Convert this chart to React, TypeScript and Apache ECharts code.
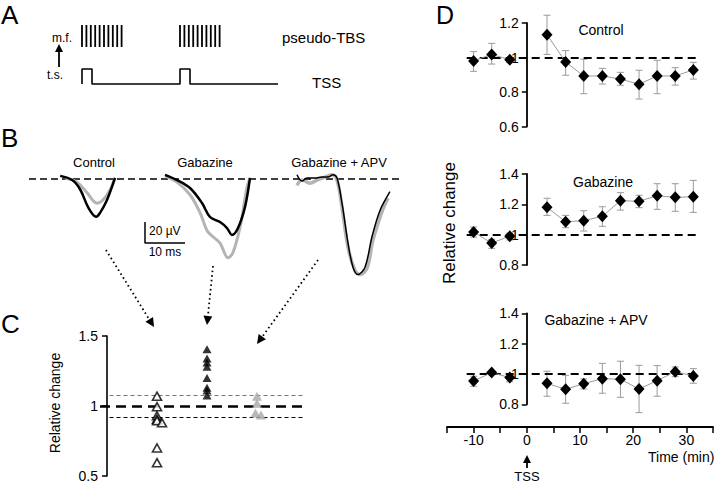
import React, { useEffect, useRef } from "react";
import * as echarts from "echarts";

const FONT = "'Liberation Sans', Arial, Helvetica, sans-serif";

// ---------- Panel A (schematic stimulation protocol) ----------
const tbsBurst1 = [12, 16.4, 20.8, 25.2, 29.6, 34, 38.4, 42.8, 47.2, 51.6];
const tbsBurst2 = [110, 114.4, 118.8, 123.2, 127.6, 132, 136.4, 140.8, 145.2, 149.6];
const tbsLow = 43;
const tbsHigh = 65;
const tssWave: number[][] = [
  [12, 6], [12, 21], [22, 21], [22, 6], [110, 6], [110, 21], [120, 21], [120, 6], [208, 6],
];

// ---------- Panel B (traces: [ms, µV]) ----------
const bControlBlack = [[7.8, 3], [10.8, -1], [12.8, -10], [14.8, -27], [16.8, -36], [17.8, -32], [19.5, -20], [21.5, 1]];
const bControlGray = [[9, 1], [12, -3], [14.5, -13], [17, -23], [18.5, -20], [20.25, -10.5], [21.5, 1]];
const bGabBlack = [[34, 4], [37, -1], [40.25, -8.6], [43.25, -22.9], [45.25, -36.2], [47.75, -41], [49.5, -46.7], [50.75, -53.3], [52.25, -46.7], [54, -26.7], [55.25, 1]];
const bGabGray = [[34, 3], [37, -3], [40.25, -15], [42.75, -32], [44.5, -49], [46, -55], [47.75, -61], [49.75, -75], [51, -70], [52.75, -46], [54.5, -8], [55.25, 1]];
const bApvBlack = [[67, 4], [68.25, -2], [69.5, 1], [71.5, 1], [73.25, 2], [74.75, 2], [76, 4], [77, 1], [78.25, -23], [79.75, -61], [81, -84], [82.25, -91], [84, -84], [85.75, -55], [87.75, -30], [90.25, -12]];
const bApvGray = [[67, -6], [68.25, -1], [70.25, -4], [72, -1], [73.5, 1], [75.75, 4], [77, -1], [78.25, -27], [79.75, -65], [81.5, -87], [82.75, -91], [84.5, -85], [86, -58], [88.25, -31], [89.75, -18]];
const bScaleBar = [[29, -41], [29, -61], [39, -61]];

// ---------- Panel C (relative change per cell) ----------
const cControl = [[1, 1.07], [1, 0.995], [1, 0.93], [1, 0.905], [1, 0.895], [1.1, 0.88], [1, 0.7], [1, 0.595]];
const cGabazine = [[2, 1.405], [2, 1.34], [2, 1.31], [2, 1.28], [2, 1.2], [2, 1.13], [2, 1.11], [2, 1.075]];
const cApv = [[3, 1.07], [3, 1.02], [2.97, 0.95], [3.08, 0.935]];
const cUpper = 1.079;
const cLower = 0.92;

// ---------- Panel D (time course) ----------
const timeMin = [-10, -6.6, -3.2, 3.8, 7.3, 10.7, 14.2, 17.6, 21.1, 24.5, 27.9, 31.3];
const dControlMean = [0.98, 1.018, 0.987, 1.132, 0.974, 0.893, 0.893, 0.875, 0.845, 0.893, 0.893, 0.928];
const dControlLo = [0.92, 0.962, 0.97, 1.018, 0.897, 0.79, 0.846, 0.839, 0.759, 0.79, 0.84, 0.875];
const dControlHi = [1.034, 1.082, 1.0, 1.245, 1.04, 0.99, 0.937, 0.914, 0.926, 0.984, 0.941, 0.972];
const dGabMean = [1.017, 0.945, 0.99, 1.18, 1.085, 1.092, 1.121, 1.224, 1.22, 1.257, 1.246, 1.25];
const dGabLo = [0.984, 0.91, 0.965, 1.127, 1.046, 1.024, 1.055, 1.162, 1.178, 1.167, 1.154, 1.147];
const dGabHi = [1.05, 0.969, 1.01, 1.24, 1.127, 1.158, 1.184, 1.277, 1.26, 1.336, 1.336, 1.358];
const dApvMean = [0.954, 1.009, 0.976, 0.938, 0.899, 0.936, 0.969, 0.965, 0.901, 0.956, 1.015, 0.987];
const dApvLo = [0.919, 0.995, 0.949, 0.853, 0.807, 0.901, 0.873, 0.846, 0.745, 0.853, 0.982, 0.939];
const dApvHi = [0.985, 1.02, 0.998, 1.018, 0.991, 0.967, 1.07, 1.084, 1.057, 1.055, 1.046, 1.035];
const timeTicks = [-10, 0, 10, 20, 30];

const D_LEFT = 447;
const D_WIDTH = 266;
const T_MIN = -15;
const T_MAX = 35;
const D_Y_OFFSET = -((0 - T_MIN) / (T_MAX - T_MIN)) * D_WIDTH;

function vRender(color: string, cap: number, width: number) {
  return (params: any, api: any) => {
    const x = api.value(0);
    const a = api.coord([x, api.value(1)]);
    const b = api.coord([x, api.value(2)]);
    const style = { stroke: color, lineWidth: width };
    const children: any[] = [
      { type: "line", shape: { x1: a[0], y1: a[1], x2: b[0], y2: b[1] }, style },
    ];
    if (cap > 0) {
      children.push({ type: "line", shape: { x1: a[0] - cap, y1: a[1], x2: a[0] + cap, y2: a[1] }, style });
      children.push({ type: "line", shape: { x1: b[0] - cap, y1: b[1], x2: b[0] + cap, y2: b[1] }, style });
    }
    return { type: "group", children };
  };
}

function text(x: number, y: number, t: string, size: number, align = "left", extra: any = {}, rotation = 0) {
  return {
    type: "text",
    x,
    y,
    rotation,
    style: {
      text: t,
      fontSize: size,
      fontFamily: FONT,
      fill: "#000",
      align,
      verticalAlign: "middle",
      textAlign: align,
      textVerticalAlign: "middle",
      ...extra,
    },
    z: 100,
  };
}

function dottedArrow(x1: number, y1: number, tip: number[]) {
  const dx = tip[0] - x1;
  const dy = tip[1] - y1;
  const len = Math.sqrt(dx * dx + dy * dy);
  const ux = dx / len;
  const uy = dy / len;
  const bx = tip[0] - ux * 9;
  const by = tip[1] - uy * 9;
  const px = -uy * 4.5;
  const py = ux * 4.5;
  return [
    {
      type: "line",
      shape: { x1, y1, x2: bx, y2: by },
      style: { stroke: "#000", lineWidth: 1.8, lineDash: [1.6, 3] },
      z: 100,
    },
    {
      type: "polygon",
      shape: { points: [tip, [bx + px, by + py], [bx - px, by - py]] },
      style: { fill: "#000" },
      z: 100,
    },
  ];
}

function upArrow(x: number, yTop: number, yBottom: number) {
  return [
    { type: "line", shape: { x1: x, y1: yBottom, x2: x, y2: yTop + 7 }, style: { stroke: "#000", lineWidth: 1.8 }, z: 100 },
    { type: "polygon", shape: { points: [[x, yTop], [x - 4, yTop + 8], [x + 4, yTop + 8]] }, style: { fill: "#000" }, z: 100 },
  ];
}

const hiddenAxis = (min: number, max: number) => ({
  type: "value",
  min,
  max,
  show: false,
  splitLine: { show: false },
});

function dYAxis(min: number, max: number) {
  return {
    type: "value",
    min,
    max,
    interval: 0.2,
    position: "left",
    offset: D_Y_OFFSET,
    axisLine: { show: true, onZero: false, lineStyle: { color: "#000", width: 1.8 } },
    axisTick: { show: true, length: 5, lineStyle: { color: "#000", width: 1.5 } },
    axisLabel: { fontSize: 14, color: "#000", margin: 8, fontFamily: FONT },
    splitLine: { show: false },
  };
}

function dSeries(idx: number, mean: number[], lo: number[], hi: number[]) {
  const pts = timeMin.map((t, i) => [t, mean[i]]);
  const lineBase = {
    type: "line",
    xAxisIndex: idx,
    yAxisIndex: idx,
    symbol: "diamond",
    symbolSize: [11, 12],
    itemStyle: { color: "#000" },
    lineStyle: { color: "#9a9a9a", width: 1 },
    z: 5,
  };
  return [
    {
      type: "custom",
      xAxisIndex: idx,
      yAxisIndex: idx,
      renderItem: vRender("#9a9a9a", 3.5, 1),
      encode: { x: 0, y: [1, 2] },
      data: timeMin.map((t, i) => [t, lo[i], hi[i]]),
      z: 3,
    },
    {
      ...lineBase,
      data: pts.slice(0, 3),
      markLine: {
        silent: true,
        symbol: "none",
        label: { show: false },
        lineStyle: { color: "#000", width: 2, type: [8, 5] },
        data: [[{ coord: [-11.3, 1] }, { coord: [32, 1] }]],
        z: 4,
      },
    },
    { ...lineBase, data: pts.slice(3) },
  ];
}

function trace(data: number[][], color: string, width: number) {
  return {
    type: "line",
    xAxisIndex: 1,
    yAxisIndex: 1,
    data,
    smooth: 0.35,
    symbol: "none",
    lineStyle: { color, width },
    z: color === "#000" ? 6 : 5,
  };
}

export default function App() {
  const ref = useRef<HTMLDivElement>(null);

  useEffect(() => {
    document.body.style.margin = "0";
    if (!ref.current) return;
    const chart = echarts.init(ref.current, undefined, { renderer: "svg" });

    const option: any = {
      animation: false,
      backgroundColor: "#fff",
      textStyle: { fontFamily: FONT },
      grid: [
        { left: 70, top: 20, width: 220, height: 70 },
        { left: 29, top: 160.1, width: 371, height: 123.9 },
        { left: 97, top: 336, width: 210, height: 140 },
        { left: D_LEFT, top: 23, width: D_WIDTH, height: 103.5 },
        { left: D_LEFT, top: 174, width: D_WIDTH, height: 91 },
        { left: D_LEFT, top: 313.3, width: D_WIDTH, height: 91 },
      ],
      xAxis: [
        hiddenAxis(0, 220),
        hiddenAxis(0, 92.75),
        hiddenAxis(-0.2, 4),
        hiddenAxis(T_MIN, T_MAX),
        hiddenAxis(T_MIN, T_MAX),
        {
          type: "value",
          min: T_MIN,
          max: T_MAX,
          interval: 5,
          position: "bottom",
          offset: 22.7,
          axisLine: { show: true, onZero: false, lineStyle: { color: "#000", width: 1.8 } },
          axisTick: { show: true, length: 6, lineStyle: { color: "#000", width: 1.5 } },
          axisLabel: {
            fontSize: 14,
            color: "#000",
            margin: 6,
            fontFamily: FONT,
            formatter: (v: number) => (timeTicks.indexOf(v) >= 0 ? String(v) : ""),
          },
          splitLine: { show: false },
        },
      ].map((a: any, i: number) => ({ gridIndex: i, ...a })),
      yAxis: [
        hiddenAxis(0, 70),
        hiddenAxis(-100, 18),
        {
          type: "value",
          min: 0.5,
          max: 1.5,
          interval: 0.5,
          position: "left",
          offset: -10,
          axisLine: { show: true, onZero: false, lineStyle: { color: "#000", width: 1.6 } },
          axisTick: { show: true, length: 5, lineStyle: { color: "#000", width: 1.5 } },
          axisLabel: { fontSize: 14, color: "#000", margin: 9, fontFamily: FONT },
          splitLine: { show: false },
        },
        dYAxis(0.6, 1.2),
        dYAxis(0.8, 1.4),
        dYAxis(0.8, 1.4),
      ].map((a: any, i: number) => ({ gridIndex: i, ...a })),
      series: [
        // Panel A
        {
          type: "custom",
          xAxisIndex: 0,
          yAxisIndex: 0,
          renderItem: vRender("#000", 0, 1.8),
          encode: { x: 0, y: [1, 2] },
          data: tbsBurst1.concat(tbsBurst2).map((t) => [t, tbsLow, tbsHigh]),
        },
        {
          type: "line",
          xAxisIndex: 0,
          yAxisIndex: 0,
          data: tssWave,
          symbol: "none",
          lineStyle: { color: "#000", width: 1.6 },
        },
        // Panel B
        trace(bControlGray, "#b4b4b4", 3),
        trace(bControlBlack, "#000", 2.5),
        trace(bGabGray, "#b4b4b4", 3),
        trace(bGabBlack, "#000", 2.5),
        trace(bApvGray, "#b4b4b4", 3.5),
        trace(bApvBlack, "#000", 1.5),
        {
          type: "line",
          xAxisIndex: 1,
          yAxisIndex: 1,
          data: bScaleBar,
          symbol: "none",
          lineStyle: { color: "#000", width: 1.5 },
          markLine: {
            silent: true,
            symbol: "none",
            label: { show: false },
            lineStyle: { color: "#000", width: 1.6, type: [7, 4] },
            data: [[{ coord: [0, 0] }, { coord: [92.75, 0] }]],
          },
        },
        // Panel C
        {
          type: "scatter",
          xAxisIndex: 2,
          yAxisIndex: 2,
          data: cControl,
          symbol: "triangle",
          symbolSize: [9, 8],
          itemStyle: { color: "#fff", borderColor: "#000", borderWidth: 1.6 },
          z: 5,
          markLine: {
            silent: true,
            symbol: "none",
            label: { show: false },
            data: [
              [{ coord: [-0.14, 1], lineStyle: { color: "#000", width: 2.5, type: [10, 6] } }, { coord: [3.92, 1] }],
              [{ coord: [0.05, cUpper], lineStyle: { color: "#777", width: 1.2, type: [4, 3] } }, { coord: [3.92, cUpper] }],
              [{ coord: [0.05, cLower], lineStyle: { color: "#000", width: 1, type: [4, 3] } }, { coord: [3.92, cLower] }],
            ],
            z: 2,
          },
        },
        {
          type: "scatter",
          xAxisIndex: 2,
          yAxisIndex: 2,
          data: cGabazine,
          symbol: "triangle",
          symbolSize: [9, 8],
          itemStyle: { color: "#000" },
          z: 5,
        },
        {
          type: "scatter",
          xAxisIndex: 2,
          yAxisIndex: 2,
          data: cApv,
          symbol: "triangle",
          symbolSize: [10, 9],
          itemStyle: { color: "#a8a8a8" },
          z: 5,
        },
        // Panel D
        ...dSeries(3, dControlMean, dControlLo, dControlHi),
        ...dSeries(4, dGabMean, dGabLo, dGabHi),
        ...dSeries(5, dApvMean, dApvLo, dApvHi),
      ],
      graphic: [
        // panel letters
        text(1, 15, "A", 26),
        text(1, 138, "B", 26),
        text(1, 324, "C", 26),
        text(436, 15, "D", 25),
        // panel A
        text(52, 38, "m.f.", 12),
        text(47, 75, "t.s.", 12),
        ...upArrow(59, 44, 67),
        text(282, 37, "pseudo-TBS", 15),
        text(312, 82, "TSS", 15),
        // panel B
        text(94, 162, "Control", 13, "center"),
        text(205, 162, "Gabazine", 13, "center"),
        text(339, 162, "Gabazine + APV", 13, "center"),
        text(149, 231, "20 \u00b5V", 12),
        text(165, 252, "10 ms", 12, "center"),
        // arrows B -> C
        ...dottedArrow(106, 250, [154, 327]),
        ...dottedArrow(213, 266, [207, 325]),
        ...dottedArrow(318, 260, [257, 344]),
        // panel C axis title
        text(55, 403, "Relative change", 14, "center", {}, Math.PI / 2),
        // panel D
        text(449, 223, "Relative change", 17, "center", {}, Math.PI / 2),
        text(601, 30, "Control", 14, "center"),
        text(603, 182, "Gabazine", 14, "center"),
        text(596, 320, "Gabazine + APV", 14, "center"),
        text(648, 457, "Time (min)", 14),
        ...upArrow(527, 455, 468),
        text(527, 476, "TSS", 13, "center"),
      ],
    };

    chart.setOption(option);
    return () => chart.dispose();
  }, []);

  return (
    <div
      ref={ref}
      style={{ position: "absolute", left: 0, top: 0, width: 720, height: 484, background: "#fff" }}
    />
  );
}
